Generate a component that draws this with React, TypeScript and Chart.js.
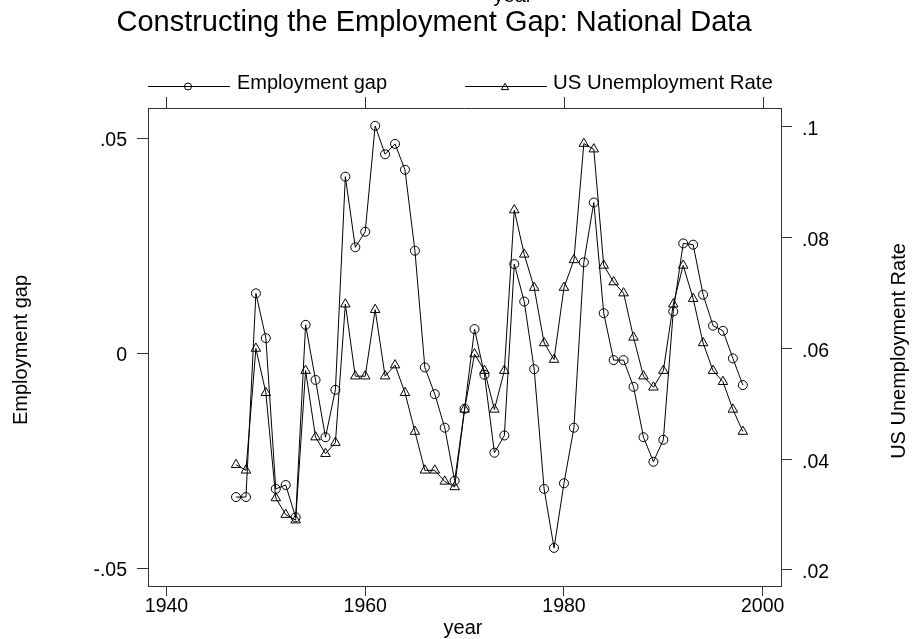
import React, { useEffect, useRef } from "react";
import { Chart, registerables } from "chart.js";

Chart.register(...registerables);

const FONT = '"Liberation Sans", Arial, Helvetica, sans-serif';
const FRAME = "#333333";

const years = [
  1947, 1948, 1949, 1950, 1951, 1952, 1953, 1954, 1955, 1956, 1957, 1958, 1959,
  1960, 1961, 1962, 1963, 1964, 1965, 1966, 1967, 1968, 1969, 1970, 1971, 1972,
  1973, 1974, 1975, 1976, 1977, 1978, 1979, 1980, 1981, 1982, 1983, 1984, 1985,
  1986, 1987, 1988, 1989, 1990, 1991, 1992, 1993, 1994, 1995, 1996, 1997, 1998,
];

const employmentGap = [
  -0.0333, -0.0333, 0.014, 0.0036, -0.0314, -0.0305, -0.038, 0.0067, -0.0061,
  -0.0194, -0.0084, 0.0411, 0.0247, 0.0283, 0.0529, 0.0463, 0.0487, 0.0427,
  0.0239, -0.0032, -0.0094, -0.0172, -0.0295, -0.0128, 0.0057, -0.0049, -0.023,
  -0.019, 0.0208, 0.0121, -0.0036, -0.0314, -0.0451, -0.0301, -0.0172, 0.0212,
  0.0351, 0.0094, -0.0015, -0.0015, -0.0077, -0.0194, -0.0251, -0.02, 0.0098,
  0.0256, 0.0253, 0.0137, 0.0065, 0.0053, -0.0011, -0.0073,
];

const unemploymentRate = [
  0.039, 0.038, 0.06, 0.052, 0.033, 0.03, 0.029, 0.056, 0.044, 0.041, 0.043,
  0.068, 0.055, 0.055, 0.067, 0.055, 0.057, 0.052, 0.045, 0.038, 0.038, 0.036,
  0.035, 0.049, 0.059, 0.056, 0.049, 0.056, 0.085, 0.077, 0.071, 0.061, 0.058,
  0.071, 0.076, 0.097, 0.096, 0.075, 0.072, 0.07, 0.062, 0.055, 0.053, 0.056,
  0.068, 0.075, 0.069, 0.061, 0.056, 0.054, 0.049, 0.045,
];

const xTicks = [1940, 1960, 1980, 2000];
const gapTicks = [-0.05, 0, 0.05];
const rateTicks = [0.02, 0.04, 0.06, 0.08, 0.1];

const TITLE = "Constructing the Employment Gap: National Data";
const X_TITLE = "year";
const GAP_LABEL = "Employment gap";
const RATE_LABEL = "US Unemployment Rate";

const fmt = (v: number) => {
  if (v === 0) return "0";
  return String(v).replace(/^(-?)0\./, "$1.");
};

const drawCircle = (ctx: CanvasRenderingContext2D, x: number, y: number, r: number) => {
  ctx.beginPath();
  ctx.arc(x, y, r, 0, Math.PI * 2);
  ctx.stroke();
};

const drawTriangle = (ctx: CanvasRenderingContext2D, x: number, y: number, r: number) => {
  ctx.beginPath();
  for (let k = 0; k < 3; k++) {
    const a = (k * 2 * Math.PI) / 3;
    const px = x + Math.sin(a) * r;
    const py = y - Math.cos(a) * r;
    if (k === 0) ctx.moveTo(px, py);
    else ctx.lineTo(px, py);
  }
  ctx.closePath();
  ctx.stroke();
};

const decorPlugin = {
  id: "decor",
  afterDraw(chart: any) {
    const ctx: CanvasRenderingContext2D = chart.ctx;
    const area = chart.chartArea;
    const xs = chart.scales.x;
    ctx.save();

    // top frame and top axis ticks
    ctx.strokeStyle = FRAME;
    ctx.lineWidth = 1;
    ctx.beginPath();
    ctx.moveTo(area.left, Math.round(area.top) + 0.5);
    ctx.lineTo(area.right, Math.round(area.top) + 0.5);
    for (const t of xTicks) {
      const px = Math.round(xs.getPixelForValue(t)) + 0.5;
      ctx.moveTo(px, area.top);
      ctx.lineTo(px, area.top - 11);
    }
    ctx.stroke();

    ctx.fillStyle = "#000";
    ctx.textBaseline = "alphabetic";

    // title
    ctx.font = `29px ${FONT}`;
    ctx.textAlign = "center";
    ctx.fillText(TITLE, 434, 31);

    // top axis title (mostly clipped)
    ctx.font = `20px ${FONT}`;
    ctx.fillText(X_TITLE, 513, 2);

    // bottom axis title
    ctx.fillText(X_TITLE, 463, 634);

    // left axis title
    ctx.save();
    ctx.translate(27, 350);
    ctx.rotate(-Math.PI / 2);
    ctx.fillText(GAP_LABEL, 0, 0);
    ctx.restore();

    // right axis title
    ctx.save();
    ctx.translate(905, 351);
    ctx.rotate(-Math.PI / 2);
    ctx.fillText(RATE_LABEL, 0, 0);
    ctx.restore();

    // legend
    ctx.strokeStyle = "#000";
    ctx.lineWidth = 1;
    ctx.beginPath();
    ctx.moveTo(148, 86.5);
    ctx.lineTo(230, 86.5);
    ctx.moveTo(465, 86.5);
    ctx.lineTo(547, 86.5);
    ctx.stroke();
    drawCircle(ctx, 188, 86.5, 3.5);
    drawTriangle(ctx, 505, 87.5, 4.2);
    ctx.fillStyle = "#000";
    ctx.textAlign = "left";
    ctx.font = `20px ${FONT}`;
    ctx.fillText(GAP_LABEL, 237, 89);
    ctx.font = `20.4px ${FONT}`;
    ctx.fillText(RATE_LABEL, 553, 89);

    ctx.restore();
  },
};

const tickFont = { family: FONT, size: 19.5, lineHeight: 1 };

export default function App() {
  const ref = useRef<HTMLCanvasElement | null>(null);

  useEffect(() => {
    document.body.style.margin = "0";
    const canvas = ref.current;
    if (!canvas) return;

    const chart = new Chart(canvas, {
      type: "line",
      data: {
        datasets: [
          {
            label: GAP_LABEL,
            data: years.map((yr, i) => ({ x: yr, y: employmentGap[i] })),
            yAxisID: "y",
            borderColor: "#000",
            borderWidth: 1,
            pointStyle: "circle",
            pointRadius: 4.5,
            pointBorderWidth: 1,
            pointBorderColor: "#000",
            pointBackgroundColor: "rgba(0,0,0,0)",
            tension: 0,
            fill: false,
          },
          {
            label: RATE_LABEL,
            data: years.map((yr, i) => ({ x: yr, y: unemploymentRate[i] })),
            yAxisID: "y1",
            borderColor: "#000",
            borderWidth: 1,
            pointStyle: "triangle",
            pointRadius: 5.5,
            pointBorderWidth: 1,
            pointBorderColor: "#000",
            pointBackgroundColor: "rgba(0,0,0,0)",
            tension: 0,
            fill: false,
          },
        ],
      },
      options: {
        animation: false,
        responsive: false,
        events: [],
        layout: { padding: { top: 108, left: 0, right: 0, bottom: 0 }, autoPadding: false },
        plugins: {
          legend: { display: false },
          title: { display: false },
          tooltip: { enabled: false },
        },
        scales: {
          x: {
            type: "linear",
            position: "bottom",
            min: 1938.14,
            max: 2001.84,
            afterBuildTicks: (s: any) => {
              s.ticks = xTicks.map((v) => ({ value: v }));
            },
            afterFit: (s: any) => {
              s.height = 53;
            },
            ticks: {
              font: tickFont,
              color: "#000",
              padding: 1,
              maxRotation: 0,
              autoSkip: false,
              callback: (v: any) => String(v),
            },
            grid: {
              display: true,
              drawOnChartArea: false,
              drawTicks: true,
              tickLength: 10,
              color: FRAME,
              lineWidth: 1,
            },
            border: { display: true, color: FRAME, width: 1 },
          },
          y: {
            type: "linear",
            position: "left",
            min: -0.05395,
            max: 0.05704,
            afterBuildTicks: (s: any) => {
              s.ticks = gapTicks.map((v) => ({ value: v }));
            },
            afterFit: (s: any) => {
              s.width = 148;
            },
            ticks: {
              font: tickFont,
              color: "#000",
              padding: 10,
              labelOffset: 2,
              callback: (v: any) => fmt(Number(v)),
            },
            grid: {
              display: true,
              drawOnChartArea: false,
              drawTicks: true,
              tickLength: 11,
              color: FRAME,
              lineWidth: 1,
            },
            border: { display: true, color: FRAME, width: 1 },
          },
          y1: {
            type: "linear",
            position: "right",
            min: 0.01711,
            max: 0.10343,
            afterBuildTicks: (s: any) => {
              s.ticks = rateTicks.map((v) => ({ value: v }));
            },
            afterFit: (s: any) => {
              s.width = 136;
            },
            ticks: {
              font: tickFont,
              color: "#000",
              padding: 10,
              labelOffset: 3,
              callback: (v: any) => fmt(Number(v)),
            },
            grid: {
              display: true,
              drawOnChartArea: false,
              drawTicks: true,
              tickLength: 11,
              color: FRAME,
              lineWidth: 1,
            },
            border: { display: true, color: FRAME, width: 1 },
          },
        },
      } as any,
      plugins: [decorPlugin],
    });

    return () => {
      chart.destroy();
    };
  }, []);

  return (
    <div style={{ position: "absolute", left: 0, top: 0, width: 917, height: 639, background: "#fff" }}>
      <canvas ref={ref} width={917} height={639} style={{ display: "block" }} />
    </div>
  );
}
